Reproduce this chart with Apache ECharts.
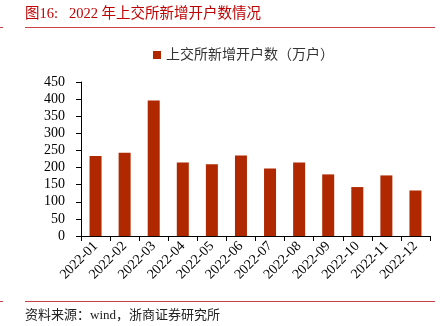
<!DOCTYPE html>
<html><head><meta charset="utf-8">
<script src="https://cdn.jsdelivr.net/npm/echarts@6/dist/echarts.min.js"></script>
<style>html,body{margin:0;padding:0;background:#fff}#c{width:446px;height:326px}</style>
</head><body><div id="c"></div>
<script>
var categories = ['2022-01','2022-02','2022-03','2022-04','2022-05','2022-06','2022-07','2022-08','2022-09','2022-10','2022-11','2022-12'];
var newAccounts = [234, 243, 396, 215, 210, 235, 197, 215, 180, 143, 177, 133];
var seriesName = '上交所新增开户数（万户）';
var titleText = '图16:   2022 年上交所新增开户数情况';
var sourceText = '资料来源：wind，浙商证券研究所';

var serif = '"Liberation Serif","Times New Roman","Noto Sans CJK SC",serif';
var chart = echarts.init(document.getElementById('c'));
chart.setOption({
  animation: false,
  graphic: [
    {type:'text', left:25, top:7, style:{text:titleText, font:'14.5px ' + serif, fill:'#C00000'}},
    {type:'line', shape:{x1:25,y1:27.5,x2:435,y2:27.5}, style:{stroke:'#C8404A', lineWidth:1}},
    {type:'line', shape:{x1:0,y1:27.5,x2:3,y2:27.5}, style:{stroke:'#C8404A', lineWidth:1}},
    {type:'line', shape:{x1:25,y1:301.5,x2:435,y2:301.5}, style:{stroke:'#C8404A', lineWidth:1}},
    {type:'line', shape:{x1:0,y1:301.5,x2:3,y2:301.5}, style:{stroke:'#C8404A', lineWidth:1}},
    {type:'text', left:25, top:309, style:{text:sourceText, font:'13px ' + serif, fill:'#222'}}
  ],
  legend: {
    top: 43, left: 148,
    itemWidth: 8, itemHeight: 8, itemGap: 5,
    icon: 'rect',
    textStyle: {fontFamily: serif, fontSize: 14, color: '#333'},
    data: [seriesName]
  },
  grid: {left: 81, right: 16, top: 82, bottom: 90},
  xAxis: {
    type: 'category', data: categories,
    axisLine: {lineStyle: {color: '#000', width: 1}},
    axisTick: {show: true, alignWithLabel: false, length: 5, lineStyle: {color: '#000'}},
    axisLabel: {rotate: 45, interval: 0, fontFamily: serif, fontSize: 14, color: '#000', margin: 8}
  },
  yAxis: {
    type: 'value', min: 0, max: 450, interval: 50,
    splitLine: {show: false},
    axisLine: {show: true, lineStyle: {color: '#000', width: 1}},
    axisTick: {show: true, length: 5, lineStyle: {color: '#000'}},
    axisLabel: {fontFamily: serif, fontSize: 14, color: '#000', margin: 16}
  },
  series: [{
    name: seriesName, type: 'bar', data: newAccounts, barWidth: 12,
    itemStyle: {color: '#B02800'}
  }]
});
</script></body></html>
